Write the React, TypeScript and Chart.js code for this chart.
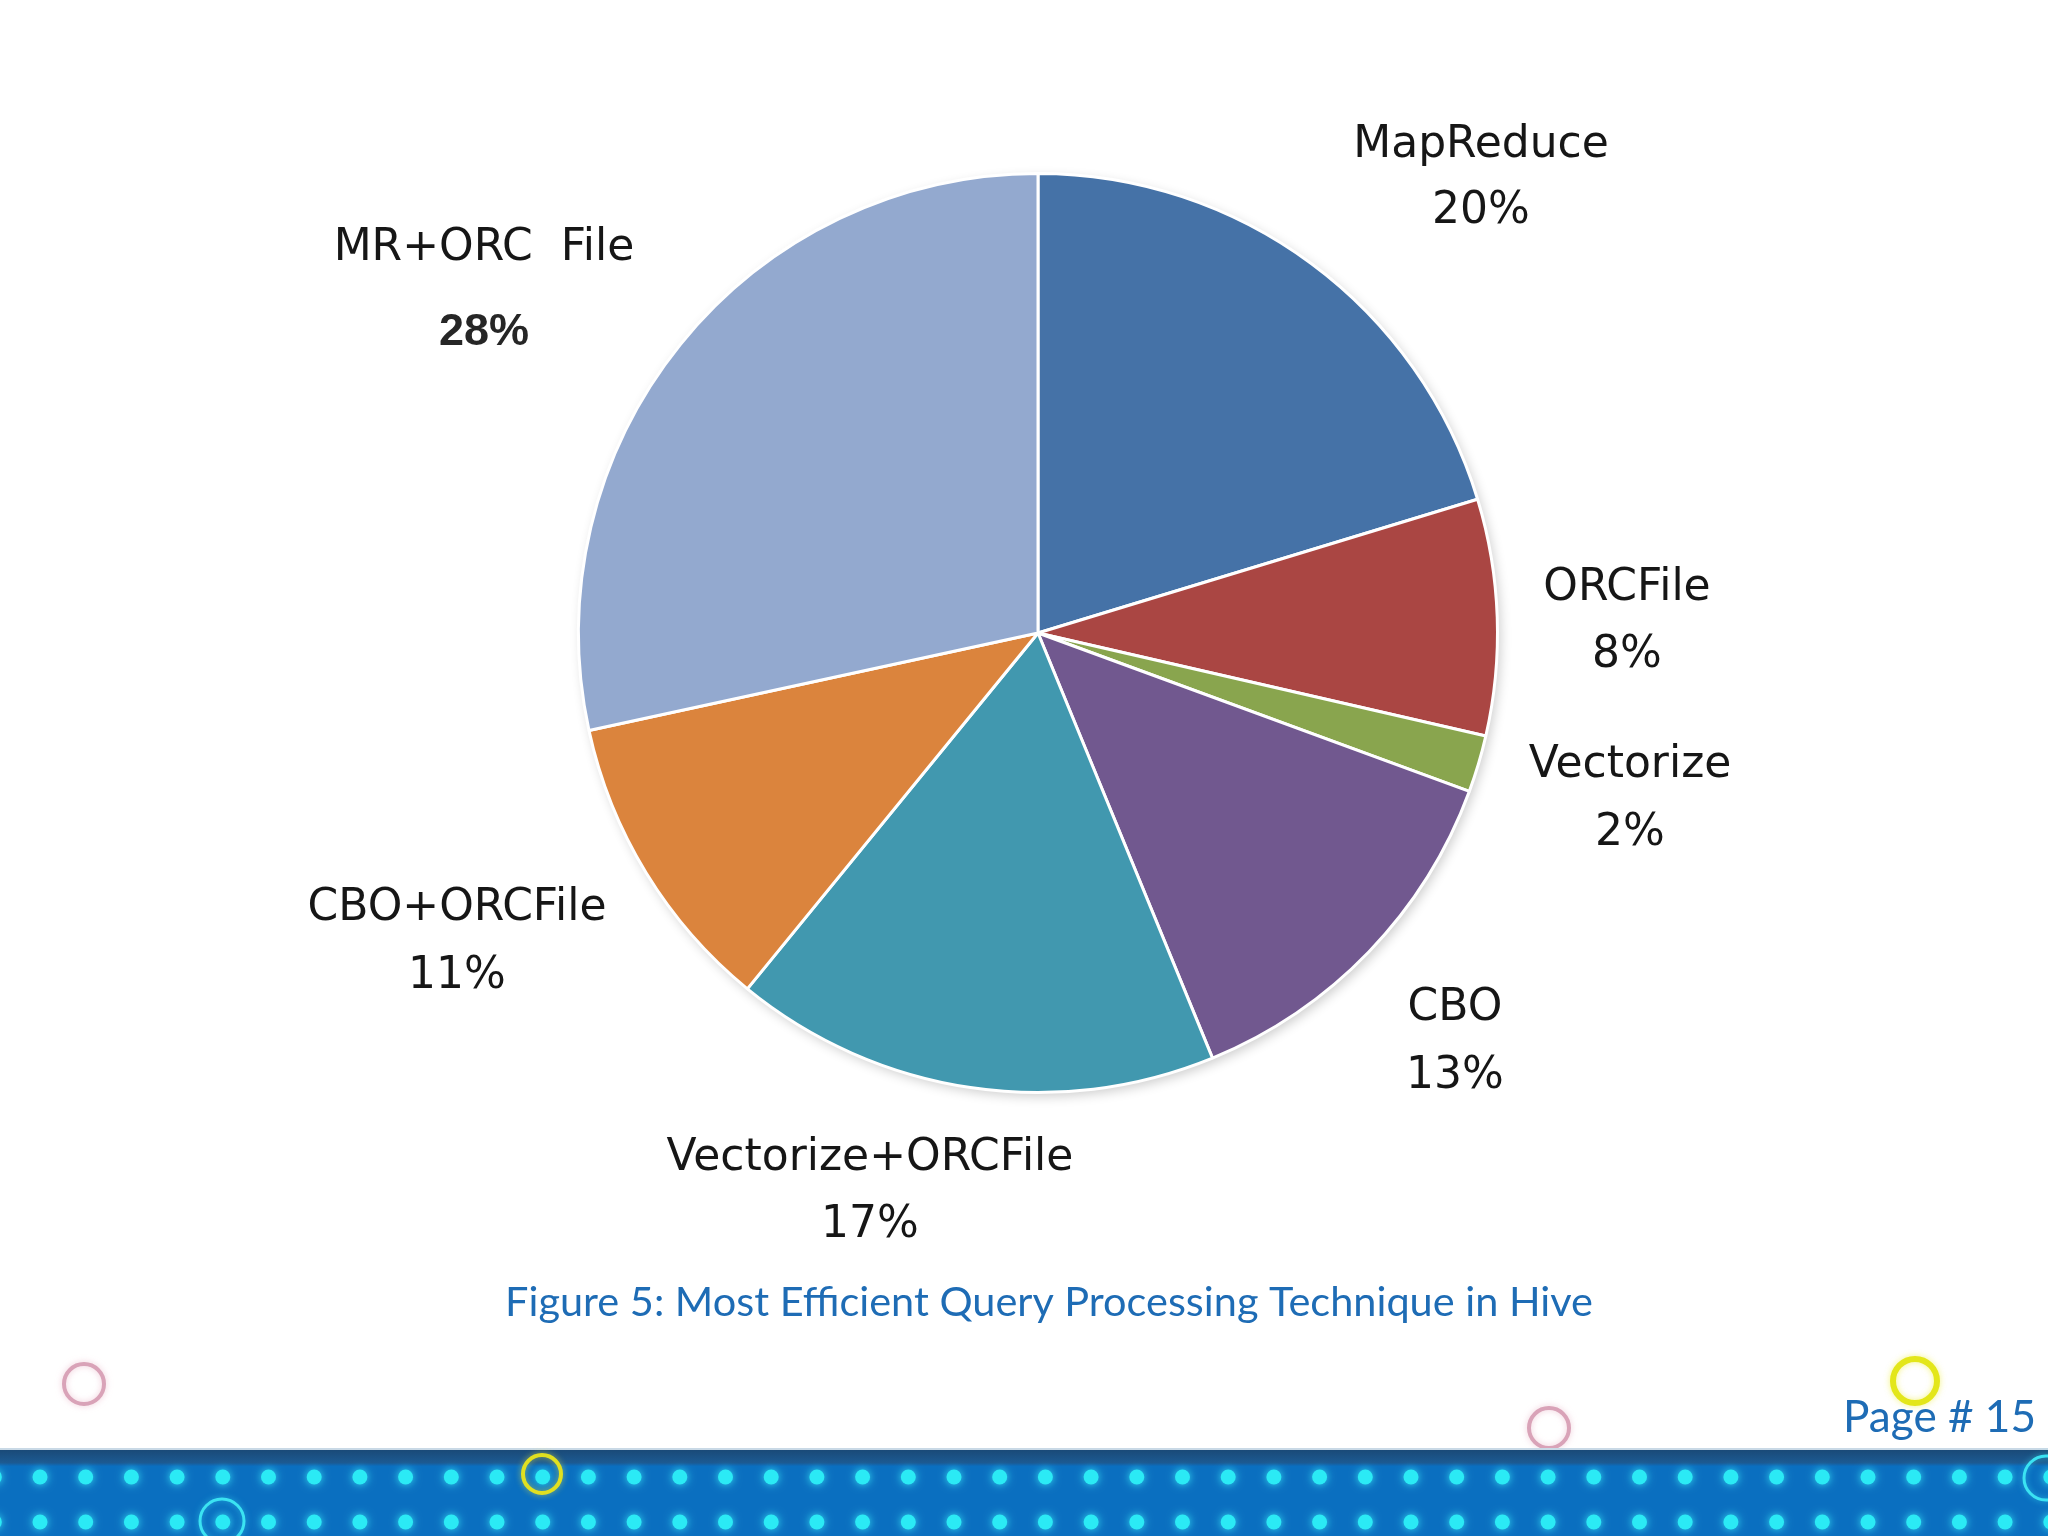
import React, { useEffect, useRef } from "react";
import { Chart, registerables } from "chart.js";

Chart.register(...registerables);

// ---- data ----
const categories = [
  "MapReduce",
  "ORCFile",
  "Vectorize",
  "CBO",
  "Vectorize+ORCFile",
  "CBO+ORCFile",
  "MR+ORC  File",
];
const shares = [20.3, 8.3, 2.0, 13.2, 17.1, 10.7, 28.4];
const sliceColors = [
  "#4572A7",
  "#AA4643",
  "#89A54E",
  "#71588F",
  "#4198AF",
  "#DB843D",
  "#93A9CF",
];
// label placement: [centre x, name baseline, percent baseline]
const labelAnchors = [
  [1481, 157, 223],
  [1627, 600, 667],
  [1630, 777, 845],
  [1455, 1020, 1088],
  [870, 1170, 1237],
  [457, 920, 988],
  [484, 260, 345],
];
const captionText = "Figure 5: Most Efficient Query Processing Technique in Hive";
const pageText = "Page # 15";

const W = 2048;
const H = 1536;

const pieShadow = {
  id: "pieShadow",
  beforeDatasetsDraw(chart: any) {
    const meta = chart.getDatasetMeta(0);
    const a = meta.data[0];
    if (!a) return;
    const ctx = chart.ctx;
    ctx.save();
    ctx.beginPath();
    ctx.arc(a.x, a.y, a.outerRadius, 0, Math.PI * 2);
    ctx.fillStyle = "#ffffff";
    ctx.shadowColor = "rgba(0,0,0,0.2)";
    ctx.shadowBlur = 12;
    ctx.shadowOffsetX = 3;
    ctx.shadowOffsetY = 4;
    ctx.fill();
    ctx.restore();
  },
};

const sliceLabels = {
  id: "sliceLabels",
  afterDraw(chart: any) {
    const ctx = chart.ctx;
    ctx.save();
    ctx.textAlign = "center";
    ctx.textBaseline = "alphabetic";
    categories.forEach((name, i) => {
      const [x, y1, y2] = labelAnchors[i];
      const pct = Math.round(shares[i]) + "%";
      ctx.fillStyle = "#161616";
      ctx.font = '44px "DejaVu Sans"';
      ctx.fillText(name, x, y1);
      if (i === categories.length - 1) {
        ctx.fillStyle = "#262626";
        ctx.font = 'bold 45px "Liberation Sans"';
      }
      ctx.fillText(pct, x, y2);
    });
    ctx.restore();
  },
};

const slideDecor = {
  id: "slideDecor",
  afterDraw(chart: any) {
    const ctx = chart.ctx;
    ctx.save();
    // caption
    ctx.fillStyle = "#1E6CB5";
    ctx.textAlign = "center";
    let size = 44;
    ctx.font = `${size}px Lato`;
    const wTarget = 1088;
    size = size * (wTarget / ctx.measureText(captionText).width);
    ctx.font = `${size}px Lato`;
    ctx.fillText(captionText, 1049, 1316);

    // page number font
    ctx.textAlign = "right";
    let ps = 44;
    ctx.font = `${ps}px Lato`;
    ps = ps * (193 / ctx.measureText(pageText).width);
    ctx.font = `${ps}px Lato`;

    const ring = (x: number, y: number, r: number, color: string, lw: number, glow: string) => {
      ctx.save();
      ctx.beginPath();
      ctx.arc(x, y, r, 0, Math.PI * 2);
      ctx.strokeStyle = color;
      ctx.lineWidth = lw;
      ctx.shadowColor = glow;
      ctx.shadowBlur = 6;
      ctx.stroke();
      ctx.restore();
    };
    ring(84, 1384, 20, "#D9A3B8", 4, "rgba(230,170,190,0.6)");
    ring(1549, 1428, 20, "#D9A3B8", 4, "rgba(230,170,190,0.6)");
    ring(1915, 1381, 22, "#E3E61A", 6, "rgba(240,240,80,0.7)");
    ctx.fillText(pageText, 2036, 1432);

    // band
    ctx.fillStyle = "#c9d9e6";
    ctx.fillRect(0, 1448, W, 2);
    const gTop = ctx.createLinearGradient(0, 1450, 0, 1466);
    gTop.addColorStop(0, "#1A4A78");
    gTop.addColorStop(0.8, "#1C5A92");
    gTop.addColorStop(1, "#0B6DBE");
    ctx.fillStyle = gTop;
    ctx.fillRect(0, 1450, W, 16);
    ctx.fillStyle = "#0A6FC0";
    ctx.fillRect(0, 1466, W, H - 1466);
    // dots
    ctx.save();
    ctx.fillStyle = "#2BEAF5";
    ctx.shadowColor = "rgba(60,240,250,0.9)";
    ctx.shadowBlur = 9;
    for (let x = 40 - 45.7; x < W + 20; x += 45.7) {
      for (const y of [1477, 1522]) {
        ctx.beginPath();
        ctx.arc(x, y, 7.5, 0, Math.PI * 2);
        ctx.fill();
      }
    }
    ctx.restore();
    ring(542, 1474, 19, "#E0E020", 4, "rgba(240,240,60,0.6)");
    ring(222, 1521, 22, "#3BE3F2", 3, "rgba(60,230,245,0.6)");
    ring(2046, 1478, 22, "#3BE3F2", 3, "rgba(60,230,245,0.6)");
    ctx.restore();
  },
};

export default function App() {
  const ref = useRef<HTMLCanvasElement | null>(null);
  useEffect(() => {
    if (!ref.current) return;
    const cx = 1038;
    const cy = 633;
    const r = 461;
    const chart = new Chart(ref.current, {
      type: "pie",
      data: {
        labels: categories,
        datasets: [
          {
            data: shares,
            backgroundColor: sliceColors,
            borderColor: "#ffffff",
            borderWidth: 3,
          },
        ],
      },
      options: {
        responsive: false,
        animation: false,
        devicePixelRatio: 1,
        layout: {
          padding: {
            left: cx - r,
            right: W - (cx + r),
            top: cy - r,
            bottom: H - (cy + r),
          },
        },
        plugins: {
          legend: { display: false },
          tooltip: { enabled: false },
          title: { display: false },
        },
      },
      plugins: [pieShadow, sliceLabels, slideDecor],
    });
    return () => chart.destroy();
  }, []);
  return (
    <div
      style={{
        position: "fixed",
        left: 0,
        top: 0,
        width: W,
        height: H,
        background: "#ffffff",
        overflow: "hidden",
      }}
    >
      <canvas ref={ref} width={W} height={H} style={{ width: W, height: H, display: "block" }} />
    </div>
  );
}
